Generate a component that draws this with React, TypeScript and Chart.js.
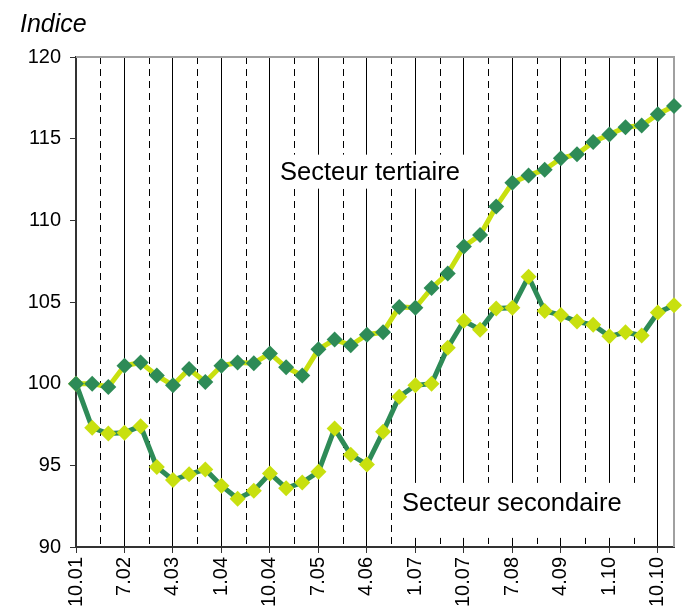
import React, { useEffect, useRef } from 'react';
import { Chart, registerables } from 'chart.js';

Chart.register(...registerables);

const quarters = [
  '10.01', '1.02', '4.02', '7.02', '10.02', '1.03', '4.03', '7.03', '10.03', '1.04',
  '4.04', '7.04', '10.04', '1.05', '4.05', '7.05', '10.05', '1.06', '4.06', '7.06',
  '10.06', '1.07', '4.07', '7.07', '10.07', '1.08', '4.08', '7.08', '10.08', '1.09',
  '4.09', '7.09', '10.09', '1.10', '4.10', '7.10', '10.10', '1.11',
];

const tertiaire = [
  100.0, 100.0, 99.8, 101.1, 101.3, 100.5, 99.9, 100.9, 100.1, 101.1,
  101.3, 101.25, 101.85, 101.0, 100.5, 102.1, 102.7, 102.35, 103.0, 103.15,
  104.7, 104.65, 105.85, 106.75, 108.4, 109.1, 110.85, 112.3, 112.75, 113.1,
  113.8, 114.05, 114.8, 115.25, 115.7, 115.8, 116.5, 117.0,
];

const secondaire = [
  100.0, 97.3, 96.95, 97.0, 97.4, 94.9, 94.1, 94.45, 94.75, 93.75,
  92.95, 93.45, 94.5, 93.6, 93.95, 94.6, 97.25, 95.65, 95.05, 97.05,
  99.2, 99.9, 100.0, 102.2, 103.85, 103.3, 104.6, 104.65, 106.55, 104.45,
  104.2, 103.8, 103.6, 102.9, 103.15, 102.95, 104.35, 104.8,
];

const yTicks = [90, 95, 100, 105, 110, 115, 120];
const labelEvery = 3;
const axisTitle = 'Indice';
const seriesLabels = [
  { text: 'Secteur tertiaire', x: 12.62, y: 112.98 },
  { text: 'Secteur secondaire', x: 20.17, y: 92.7 },
];

const DARK = '#2e8b57';
const LIME = '#c8e00f';
const FONT = "'Liberation Sans', Arial, Helvetica, sans-serif";
const NARROW = "'Liberation Sans Narrow', 'Arial Narrow', 'Liberation Sans', Arial, sans-serif";

export default function App() {
  const ref = useRef<HTMLCanvasElement>(null);

  useEffect(() => {
    if (!ref.current) return;
    const lastIdx = quarters.length - 1;
    const solidTicks = quarters.map((_, i) => i).filter((i) => i % labelEvery === 0);
    const dashedTicks = solidTicks.slice(0, -1).map((i) => i + labelEvery / 2);

    const overlay = {
      id: 'overlay',
      beforeDatasetsDraw(chart: any) {
        const { ctx, chartArea: a } = chart;
        const xs = chart.scales.x;
        const ys = chart.scales.y;
        ctx.save();
        // dashed vertical grid lines
        ctx.strokeStyle = '#000';
        ctx.lineWidth = 1;
        ctx.setLineDash([7, 5]);
        dashedTicks.forEach((v) => {
          const px = Math.round(xs.getPixelForValue(v)) + 0.5;
          ctx.beginPath();
          ctx.moveTo(px, a.top);
          ctx.lineTo(px, a.bottom);
          ctx.stroke();
        });
        ctx.setLineDash([]);
        // frame top and right
        ctx.strokeStyle = '#a0a0a0';
        ctx.lineWidth = 2;
        ctx.beginPath();
        ctx.moveTo(a.left, a.top);
        ctx.lineTo(a.right, a.top);
        ctx.lineTo(a.right, a.bottom);
        ctx.stroke();
        // series labels with white boxes
        ctx.font = `25.5px ${FONT}`;
        ctx.textBaseline = 'middle';
        ctx.textAlign = 'left';
        seriesLabels.forEach((l, i) => {
          const px = xs.getPixelForValue(l.x);
          const py = ys.getPixelForValue(l.y);
          const w = ctx.measureText(l.text).width;
          ctx.fillStyle = '#fff';
          if (i === 0) ctx.fillRect(px - 8, py - 17, w + 34, 34);
          else ctx.fillRect(px - 6, py - 20, w + 30, 55);
          ctx.fillStyle = '#000';
          ctx.fillText(l.text, px, py + 1);
        });
        ctx.restore();
      },
      afterDraw(chart: any) {
        const { ctx } = chart;
        ctx.save();
        ctx.font = `italic 25px ${FONT}`;
        ctx.fillStyle = '#000';
        ctx.textBaseline = 'alphabetic';
        ctx.textAlign = 'left';
        ctx.fillText(axisTitle, 20, 32);
        ctx.restore();
      },
    };

    const chart = new Chart(ref.current, {
      type: 'line',
      data: {
        datasets: [
          {
            label: 'Secteur tertiaire',
            data: tertiaire.map((y, i) => ({ x: i, y })),
            borderColor: LIME,
            backgroundColor: DARK,
            pointBackgroundColor: DARK,
            pointBorderColor: DARK,
            pointBorderWidth: 0,
            pointStyle: 'rectRot',
            pointRadius: 8,
            borderWidth: 5,
            tension: 0,
            clip: false,
          } as any,
          {
            label: 'Secteur secondaire',
            data: secondaire.map((y, i) => ({ x: i, y })),
            borderColor: DARK,
            backgroundColor: LIME,
            pointBackgroundColor: LIME,
            pointBorderColor: LIME,
            pointBorderWidth: 0,
            pointStyle: 'rectRot',
            pointRadius: 8,
            borderWidth: 5,
            tension: 0,
            clip: false,
          } as any,
        ],
      },
      options: {
        responsive: false,
        animation: false,
        layout: { padding: { top: 57, right: 22, left: 0, bottom: 0 } },
        plugins: {
          legend: { display: false },
          tooltip: { enabled: false },
        },
        scales: {
          x: {
            type: 'linear',
            min: 0,
            max: lastIdx,
            position: 'bottom',
            afterBuildTicks: (s: any) => {
              s.ticks = solidTicks.map((v) => ({ value: v }));
            },
            afterFit: (s: any) => {
              s.height = 65;
            },
            ticks: {
              autoSkip: false,
              maxRotation: 90,
              minRotation: 90,
              padding: 4,
              color: '#000',
              font: { family: NARROW, size: 20 },
              callback: (v: any) => quarters[v] ?? '',
            },
            grid: { color: '#000', lineWidth: 1, tickLength: 6, tickColor: '#333' },
            border: { color: '#333', width: 2 },
          },
          y: {
            min: 90,
            max: 120,
            afterBuildTicks: (s: any) => {
              s.ticks = yTicks.map((v) => ({ value: v }));
            },
            afterFit: (s: any) => {
              s.width = 76;
            },
            ticks: {
              padding: 9,
              color: '#000',
              font: { family: NARROW, size: 20 },
            },
            grid: { drawOnChartArea: false, tickLength: 6, tickColor: '#333' },
            border: { color: '#333', width: 2 },
          },
        },
      } as any,
      plugins: [overlay],
    });
    return () => chart.destroy();
  }, []);

  return (
    <div style={{ position: 'absolute', left: 0, top: 0, width: 696, height: 612, background: '#fff' }}>
      <canvas ref={ref} width={696} height={612} />
    </div>
  );
}
